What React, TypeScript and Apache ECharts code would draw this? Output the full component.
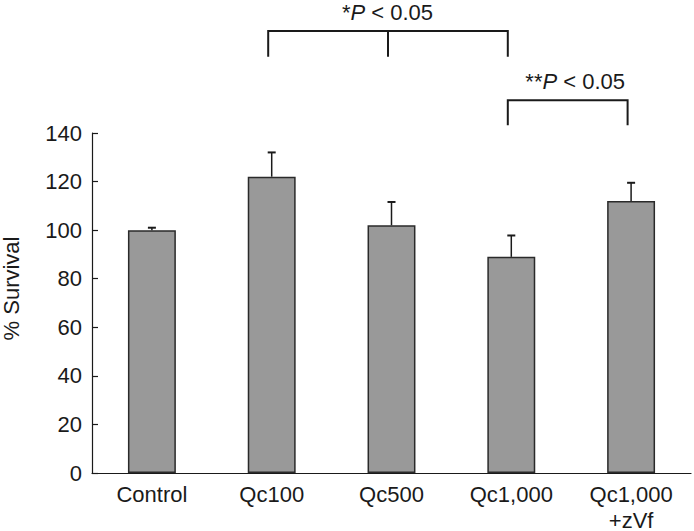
import React, { useEffect, useRef } from "react";
import * as echarts from "echarts";

const categories = ["Control", "Qc100", "Qc500", "Qc1,000", "Qc1,000\n+zVf"];
const survival = [100, 122, 102, 89, 112];
const errorUp = [1, 10, 9.6, 8.8, 7.5];
const yTicks = [0, 20, 40, 60, 80, 100, 120, 140];
// significance brackets: [fromIndex, midIndex (or -1), toIndex, topValue, bottomValue]
const bracketA = [1, 2, 3, 182, 171.4];
const bracketB = [3, -1, 4, 153.5, 143.2];
const labelA = ["*", "P", " < 0.05"];
const labelB = ["**", "P", " < 0.05"];

const FONT = "'Liberation Sans', Arial, Helvetica, sans-serif";
const INK = "#1a1a1a";

export default function App() {
  const ref = useRef<HTMLDivElement>(null);
  useEffect(() => {
    document.body.style.margin = "0";
    const chart = echarts.init(ref.current!, null, { renderer: "svg" });
    chart.setOption({
      animation: false,
      backgroundColor: "#ffffff",
      textStyle: { fontFamily: FONT },
      grid: { left: 92, right: 3, top: 133, bottom: 58, containLabel: false, outerBoundsMode: "none" },
      xAxis: {
        type: "category",
        data: categories,
        boundaryGap: true,
        axisLine: { lineStyle: { color: INK, width: 1.2 } },
        axisTick: { inside: true, length: 6, lineStyle: { color: INK, width: 1.2 } },
        axisLabel: {
          color: INK,
          fontSize: 22,
          fontFamily: FONT,
          lineHeight: 26,
          margin: 8,
          interval: 0,
        },
      },
      yAxis: {
        type: "value",
        min: yTicks[0],
        max: yTicks[yTicks.length - 1],
        interval: 20,
        splitLine: { show: false },
        axisLine: { show: true, lineStyle: { color: INK, width: 1.2 } },
        axisTick: { show: true, inside: true, length: 6, lineStyle: { color: INK, width: 1.2 } },
        axisLabel: { color: INK, fontSize: 22, fontFamily: FONT, margin: 10 },
      },
      series: [
        {
          type: "bar",
          data: survival,
          barWidth: "40%",
          itemStyle: { color: "#999999", borderColor: "#2a2a2a", borderWidth: 1.5 },
          z: 2,
        },
        {
          type: "custom",
          data: survival.map((v, i) => [i, v, errorUp[i]]),
          encode: { x: 0, y: 1 },
          z: 3,
          renderItem: (params: any, api: any) => {
            const i = api.value(0);
            const v = api.value(1);
            const e = api.value(2);
            const base = api.coord([i, v]);
            const top = api.coord([i, v + e]);
            const style = { stroke: INK, lineWidth: 1.5, fill: "none" };
            return {
              type: "group",
              children: [
                { type: "line", shape: { x1: base[0], y1: base[1], x2: top[0], y2: top[1] }, style },
                { type: "line", shape: { x1: top[0] - 4, y1: top[1], x2: top[0] + 4, y2: top[1] }, style: { ...style, lineWidth: 2 } },
              ],
            };
          },
        },
      ],
    });

    const pt = (i: number, v: number) => chart.convertToPixel({ gridIndex: 0 }, [i, v]) as number[];
    const shift = -3.5;
    const bracket = (b: number[]) => {
      const [f, m, t, topV, botV] = b;
      const a = pt(f, topV);
      const c = pt(t, topV);
      const low = pt(f, botV)[1];
      const children: any[] = [
        {
          type: "polyline",
          shape: { points: [[a[0] + shift, low], [a[0] + shift, a[1]], [c[0] + shift, a[1]], [c[0] + shift, low]] },
          style: { stroke: INK, lineWidth: 2, fill: "none" },
        },
      ];
      if (m >= 0) {
        const mx = pt(m, topV)[0] + shift;
        children.push({
          type: "line",
          shape: { x1: mx, y1: a[1], x2: mx, y2: low },
          style: { stroke: INK, lineWidth: 2 },
        });
      }
      return children;
    };
    const rich = {
      s: { fontSize: 22, fontFamily: FONT, fill: INK, lineHeight: 24 },
      p: { fontSize: 22, fontFamily: FONT, fontStyle: "italic", fill: INK, lineHeight: 24 },
    };
    const sig = (lab: string[], x: number, y: number) => ({
      type: "text",
      x,
      y,
      style: {
        text: `{s|${lab[0]}}{p|${lab[1]}}{s|${lab[2]}}`,
        rich,
        textAlign: "center",
        textVerticalAlign: "middle",
        align: "center",
        verticalAlign: "middle",
      },
    });
    const midA = pt(bracketA[1], 0)[0];
    const midB = (pt(bracketB[0], 0)[0] + pt(bracketB[2], 0)[0]) / 2;

    chart.setOption({
      graphic: [
        ...bracket(bracketA),
        ...bracket(bracketB),
        sig(labelA, midA - 4, 12),
        sig(labelB, midB + 4, 81),
        {
          type: "text",
          x: 11,
          y: 288.5,
          rotation: Math.PI / 2,
          style: {
            text: "% Survival",
            fontSize: 22,
            fontFamily: FONT,
            fill: INK,
            align: "center",
            verticalAlign: "middle",
          },
        },
      ],
    });
    return () => chart.dispose();
  }, []);
  return <div ref={ref} style={{ width: 694, height: 531 }} />;
}
